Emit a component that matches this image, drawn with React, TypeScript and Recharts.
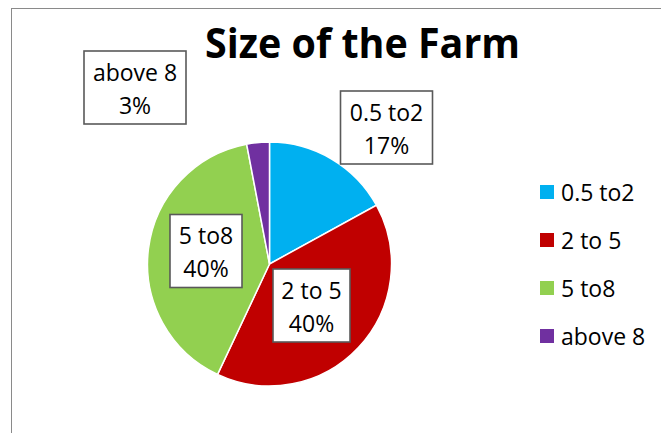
import React from 'react';
import { PieChart, Pie, Cell, Legend } from 'recharts';

const categories = ['0.5 to2', '2 to 5', '5 to8', 'above 8'];
const shares = [17, 40, 40, 3];
const colors = ['#00B0F0', '#C00000', '#92D050', '#7030A0'];

// where each data label box sits relative to the pie centre (layout only)
const labelOffsets = [
  { dx: 117, dy: -136.5, w: 92 },
  { dx: 42, dy: 41.5, w: 77 },
  { dx: -63.5, dy: -13, w: 72 },
  { dx: -134.5, dy: -176.5, w: 102 },
];

const FONT = '"Open Sans", sans-serif';

const data = categories.map((name, i) => ({ name, value: shares[i] }));

const renderLabel = (props: any) => {
  const { cx, cy, index, name, percent } = props;
  const o = labelOffsets[index];
  const x = cx + o.dx;
  const y = cy + o.dy;
  const h = 73;
  return (
    <g key={`lbl-${index}`}>
      <rect
        x={x - o.w / 2}
        y={y - h / 2}
        width={o.w}
        height={h}
        fill="#fff"
        stroke="#595959"
        strokeWidth={1.6}
      />
      <text
        x={x}
        y={y - 16}
        textAnchor="middle"
        dominantBaseline="central"
        fontFamily={FONT}
        fontSize={23}
        fill="#000"
      >
        {name}
      </text>
      <text
        x={x}
        y={y + 17}
        textAnchor="middle"
        dominantBaseline="central"
        fontFamily={FONT}
        fontSize={23}
        fill="#000"
      >
        {`${Math.round(percent * 100)}%`}
      </text>
    </g>
  );
};

const renderLegend = (props: any) => {
  const { payload } = props;
  return (
    <div>
      {(payload || []).map((entry: any, i: number) => (
        <div
          key={`leg-${i}`}
          style={{ display: 'flex', alignItems: 'center', height: 48 }}
        >
          <span
            style={{
              display: 'inline-block',
              width: 14,
              height: 14,
              background: entry.color,
              marginRight: 7,
            }}
          />
          <span style={{ fontFamily: FONT, fontSize: 23, color: '#000' }}>
            {entry.value}
          </span>
        </div>
      ))}
    </div>
  );
};

const App: React.FC = () => {
  return (
    <div
      style={{
        position: 'absolute',
        left: 0,
        top: 0,
        width: 661,
        height: 433,
        overflow: 'hidden',
        background: '#fff',
      }}
    >
      <div
        style={{
          position: 'absolute',
          left: 11,
          top: 8,
          width: 800,
          height: 600,
          border: '1.5px solid #8a8a8a',
        }}
      />
      <PieChart
        width={661}
        height={433}
        margin={{ top: 0, right: 0, bottom: 0, left: 0 }}
        style={{ position: 'absolute', left: 0, top: 0 }}
      >
        <text
          x={205}
          y={58}
          textLength={315}
          lengthAdjust="spacingAndGlyphs"
          fontFamily={FONT}
          fontWeight={700}
          fontSize={42}
          fill="#000"
        >
          Size of the Farm
        </text>
        <Pie
          data={data}
          dataKey="value"
          nameKey="name"
          cx={269.5}
          cy={264}
          outerRadius={122}
          startAngle={90}
          endAngle={-270}
          stroke="#fff"
          strokeWidth={1.5}
          labelLine={false}
          label={renderLabel}
          isAnimationActive={false}
        >
          {data.map((_, i) => (
            <Cell key={`c-${i}`} fill={colors[i]} />
          ))}
        </Pie>
        <Legend
          layout="vertical"
          align="right"
          verticalAlign="middle"
          content={renderLegend}
          wrapperStyle={{ left: 540, top: 168, width: 121, right: 'auto', bottom: 'auto' }}
        />
      </PieChart>
    </div>
  );
};

export default App;
